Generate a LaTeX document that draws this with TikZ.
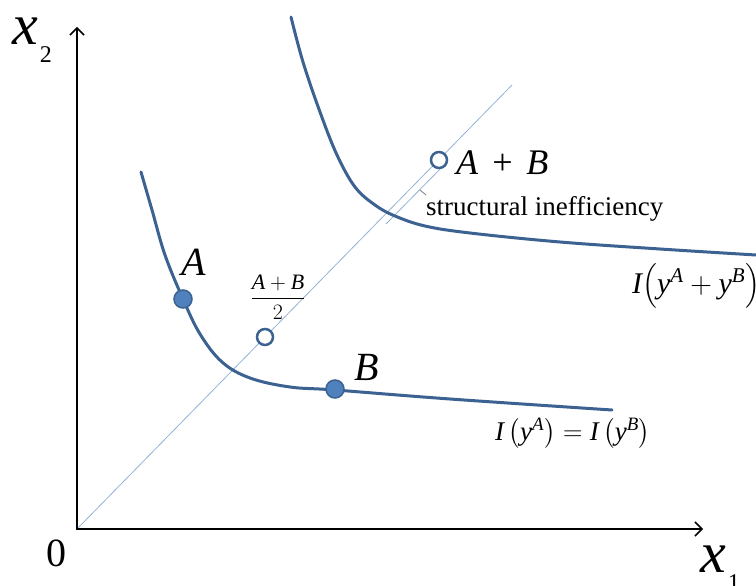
\RequirePackage{fix-cm}
\documentclass[tikz,border=0pt]{standalone}
\usepackage{amsmath}
\usepackage{fontspec}
\setmainfont{Liberation Serif}
\usetikzlibrary{arrows.meta}
\definecolor{curveblue}{HTML}{3C6291}
\definecolor{dotblue}{HTML}{4F81BD}
\definecolor{diagblue}{HTML}{95B3D7}
\newcommand{\mi}[1]{\text{\itshape #1}}
\begin{document}
\begin{tikzpicture}[x=1pt,y=-1pt,
  axis/.style={line width=1.8pt, {Straight Barb[length=7pt,width=14pt,line width=1.5pt]}-{Straight Barb[length=7pt,width=14pt,line width=1.5pt]}},
  curve/.style={curveblue, line width=3pt, line cap=round},
  diag/.style={diagblue, line width=0.8pt},
  fdot/.style={circle, fill=dotblue, draw=curveblue, line width=1.5pt, minimum size=18pt, inner sep=0pt},
  odot/.style={circle, fill=white, draw=curveblue, line width=2.5pt, minimum size=16pt, inner sep=0pt},
  big/.style={inner sep=0pt, font=\fontsize{40}{44}\selectfont\itshape},
  mid/.style={inner sep=0pt, font=\fontsize{36}{40}\selectfont\itshape},
  txt/.style={inner sep=0pt, font=\fontsize{27}{30}\selectfont},
  eq/.style={inner sep=0pt, font=\fontsize{27}{30}\selectfont}]
\useasboundingbox (0,0) rectangle (756,586);
\fill[white] (0,0) rectangle (756,586);
% axes and diagonal
\coordinate (O) at (77,529);
\coordinate (X1) at (703,529);
\coordinate (X2) at (77,27);
\coordinate (D) at (512,85);
\draw[diag] (O) -- (D);
\draw[axis] (X2) -- (O) -- (X1);
% structural inefficiency marker
\coordinate (S1) at (386,224);
\coordinate (S2) at (446,163);
\coordinate (T1) at (420,190);
\coordinate (T2) at (426,195);
\draw[diag] (S1) -- (S2);
\draw[diag, gray] (T1) -- (T2);
% isoquants
\draw[curve] plot[smooth, tension=0.6] coordinates {(141,172) (152,210) (165,255) (183,299) (200,334) (222,362) (250,378) (290,387) (335,390) (450,399) (612,410)};
\draw[curve] plot[smooth, tension=0.6] coordinates {(291,17) (303,62) (320,112) (337,155) (355,187) (375,205) (395,216) (425,226) (470,233) (560,242) (660,249) (756,255)};
% points
\node[fdot] (A) at (183,299) {};
\node[fdot] (B) at (335,389) {};
\node[odot] (M) at (265,337) {};
\node[odot] (S) at (439,160) {};
% labels
\node[big, anchor=base west] (lA) at (181,275) {A};
\node[big, anchor=base west] (lB) at (354,380) {B};
\node[mid, anchor=base west] (lS) at (456,175) {A\,\,+\,\,B};
\node[txt, anchor=base west] (lSI) at (426,215) {structural inefficiency};
\node[inner sep=0pt, font=\fontsize{22}{26}\selectfont] (lM) at (278,297) {$\dfrac{\mi{A}+\mi{B}}{2}$};
\node[eq, anchor=west] (lI1) at (495,433) {$\mi{I}\left(\mi{y}^{\mi{A}}\right)=\mi{I}\left(\mi{y}^{\mi{B}}\right)$};
\node[inner sep=0pt, font=\fontsize{30}{34}\selectfont, anchor=base west] (lI2) at (632,293) {$\mi{I}\!\left(\mi{y}^{\mi{A}}+\mi{y}^{\mi{B}}\right)$};
\node[inner sep=0pt, anchor=base west, font=\fontsize{58}{60}\selectfont] (lx2) at (12,45) {\itshape x\hspace{2pt}\raisebox{-18pt}{\upshape\fontsize{24}{24}\selectfont 2}};
\node[inner sep=0pt, anchor=base west, font=\fontsize{58}{60}\selectfont] (lx1) at (700,572) {\itshape x\hspace{2pt}\raisebox{-18pt}{\upshape\fontsize{24}{24}\selectfont 1}};
\node[inner sep=0pt, font=\fontsize{40}{44}\selectfont] (l0) at (56,553) {0};
\end{tikzpicture}
\end{document}
